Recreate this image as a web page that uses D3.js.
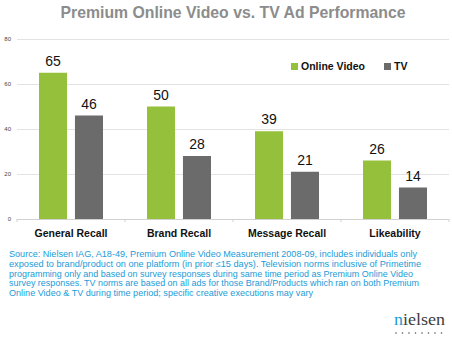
<!DOCTYPE html>
<html><head><meta charset="utf-8">
<script src="https://cdn.jsdelivr.net/npm/d3@7"></script>
<style>body{margin:0;background:#fff}svg{display:block}</style>
</head><body><svg id="c" width="452" height="342"></svg>
<script>
const categories = ["General Recall","Brand Recall","Message Recall","Likeability"];
const seriesNames = ["Online Video","TV"];
const onlineVideo = [65,50,39,26];
const tv = [46,28,21,14];
const yTicks = [0,20,40,60,80];
const colors = ["#95c03b","#6b6b6b"];
const footer = [
 "Source: Nielsen IAG, A18-49, Premium Online Video Measurement 2008-09, includes individuals only",
 "exposed to brand/product on one platform (in prior \u226415 days). Television norms inclusive of Primetime",
 "programming only and based on survey responses during same time period as Premium Online Video",
 "survey responses. TV norms are based on all ads for those Brand/Products which ran on both Premium",
 "Online Video & TV during time period; specific creative executions may vary"
];
const footerW = [408,412,404,410,304];

const svg = d3.select("#c");
const x0 = d3.scaleBand().domain(categories).range([17,449]).paddingInner(0).paddingOuter(0);
const x1 = d3.scaleBand().domain(seriesNames).range([22,86]).paddingInner(0.22);
const y = d3.scaleLinear().domain([0,80]).range([219,39]);

svg.append("text").attr("x",233).attr("y",18).attr("text-anchor","middle")
  .attr("font-family","Liberation Sans, Arial").attr("font-weight","bold").attr("font-size",16.5)
  .attr("textLength",345).attr("lengthAdjust","spacingAndGlyphs")
  .attr("fill","#8c8c8c").text("Premium Online Video vs. TV Ad Performance");

// grid
svg.append("g").selectAll("line").data(yTicks.filter(d=>d>0)).join("line")
  .attr("x1",17).attr("x2",449).attr("y1",d=>y(d)).attr("y2",d=>y(d))
  .attr("stroke","#e3e3e3").attr("stroke-width",1).attr("shape-rendering","crispEdges");
svg.append("g").selectAll("text").data(yTicks).join("text")
  .attr("x",11).attr("y",d=>y(d)+2).attr("text-anchor","end")
  .attr("font-family","Liberation Sans, Arial").attr("font-size",6).attr("fill","#444").text(d=>d);

const data = categories.map((c,i)=>({c, vals:[onlineVideo[i],tv[i]]}));
const g = svg.append("g").selectAll("g").data(data).join("g").attr("transform",d=>`translate(${x0(d.c)},0)`);
g.selectAll("rect").data(d=>d.vals.map((v,j)=>({v,s:seriesNames[j],j}))).join("rect")
  .attr("x",d=>x1(d.s)).attr("width",x1.bandwidth()).attr("y",d=>y(d.v)).attr("height",d=>y(0)-y(d.v))
  .attr("fill",d=>colors[d.j]);
g.selectAll("text.v").data(d=>d.vals.map((v,j)=>({v,s:seriesNames[j],j}))).join("text").attr("class","v")
  .attr("x",d=>x1(d.s)+x1.bandwidth()/2).attr("y",d=>y(d.v)-7).attr("text-anchor","middle")
  .attr("font-family","Liberation Sans, Arial").attr("font-size",14).attr("fill","#111").text(d=>d.v);

// x axis
const xa = svg.append("g").attr("transform",`translate(0,${y(0)})`);
xa.append("line").attr("x1",17).attr("x2",449).attr("stroke","#d0d0d0").attr("shape-rendering","crispEdges");
xa.selectAll("line.t").data([17,125,233,341,449]).join("line").attr("class","t")
  .attr("x1",d=>d).attr("x2",d=>d).attr("y1",0).attr("y2",3).attr("stroke","#d0d0d0");
svg.append("g").selectAll("text").data(categories).join("text")
  .attr("x",d=>x0(d)+x0.bandwidth()/2).attr("y",237).attr("text-anchor","middle")
  .attr("font-family","Liberation Sans, Arial").attr("font-weight","bold").attr("font-size",10.5).attr("fill","#111").text(d=>d);

// legend
const leg = [{n:"Online Video",x:291},{n:"TV",x:384}];
leg.forEach((l,i)=>{
  svg.append("rect").attr("x",l.x).attr("y",63).attr("width",7).attr("height",7).attr("fill",colors[i]);
  svg.append("text").attr("x",l.x+10).attr("y",70).attr("font-family","Liberation Sans, Arial")
    .attr("font-weight","bold").attr("font-size",10.5).attr("fill","#111").text(l.n);
});

// footer
svg.append("g").selectAll("text").data(footer).join("text")
  .attr("x",9).attr("y",(d,i)=>257+i*9.8).attr("font-family","Liberation Sans, Arial, sans-serif").attr("font-size",8.6)
  .attr("fill","#1b9bd7").attr("textLength",(d,i)=>footerW[i]).attr("lengthAdjust","spacingAndGlyphs").text(d=>d);

// logo
const logo = svg.append("text").attr("x",394).attr("y",325).attr("font-family","Liberation Serif, serif").attr("font-size",17)
  .attr("textLength",51).attr("lengthAdjust","spacingAndGlyphs");
logo.append("tspan").attr("fill","#1b9bd7").text("n");
logo.append("tspan").attr("fill","#3c3c3c").text("ielsen");
svg.append("g").selectAll("circle").data(d3.range(8)).join("circle")
  .attr("cx",d=>396+d*6.5).attr("cy",333).attr("r",0.8).attr("fill","#555");
</script></body></html>
